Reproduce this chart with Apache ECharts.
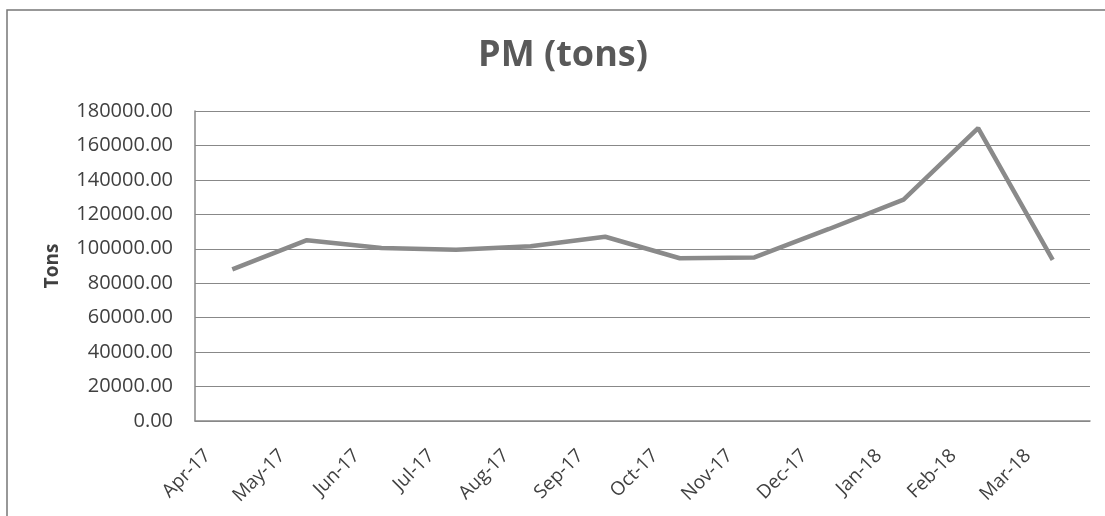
<!DOCTYPE html>
<html><head><meta charset="utf-8">
<script src="https://cdn.jsdelivr.net/npm/echarts@6/dist/echarts.min.js"></script>
<style>html,body{margin:0;padding:0;background:#fff}#c{width:1105px;height:516px}</style>
</head><body><div id="c"></div>
<script>
var categories = ['Apr-17','May-17','Jun-17','Jul-17','Aug-17','Sep-17','Oct-17','Nov-17','Dec-17','Jan-18','Feb-18','Mar-18'];
var pmTons = [88000, 105000, 100500, 99500, 101500, 107000, 94500, 95000, 111500, 128500, 170000, 93500];
var yTicks = {min: 0, max: 180000, interval: 20000};
var titleText = 'PM (tons)';
var yAxisName = 'Tons';

var chart = echarts.init(document.getElementById('c'));
var font = '"Open Sans", "Liberation Sans", sans-serif';
chart.setOption({
  animation: false,
  title: {text: titleText, left: 558, top: 33, textAlign: 'center',
    textStyle: {fontFamily: font, fontSize: 36, fontWeight: 'bold', color: '#595959'}},
  graphic: [{type: 'rect', shape: {x: 7, y: 10, width: 1120, height: 530},
    style: {fill: 'none', stroke: '#777', lineWidth: 1.5}, silent: true}],
  grid: {left: 195, right: 15, top: 111, bottom: 95},
  xAxis: {type: 'category', data: categories, boundaryGap: true,
    axisLine: {show: true, lineStyle: {color: '#888', width: 1.5}},
    axisTick: {show: false},
    axisLabel: {rotate: 45, margin: 7, padding: [0, 35, 0, 0], fontFamily: font, fontSize: 19, color: '#404040', interval: 0}},
  yAxis: {type: 'value', min: yTicks.min, max: yTicks.max, interval: yTicks.interval,
    name: yAxisName, nameLocation: 'middle', nameGap: 133,
    nameTextStyle: {fontFamily: font, fontSize: 19, fontWeight: 'bold', color: '#404040'},
    axisLine: {show: true, lineStyle: {color: '#888', width: 1.5}},
    axisTick: {show: false},
    splitLine: {lineStyle: {color: '#888', width: 1.2}},
    axisLabel: {margin: 22, fontFamily: font, fontSize: 20, color: '#404040',
      formatter: function(v){ return v.toFixed(2); }}},
  series: [{type: 'line', data: pmTons, symbol: 'none',
    lineStyle: {color: '#8a8a8a', width: 4.5}}]
});
</script></body></html>
